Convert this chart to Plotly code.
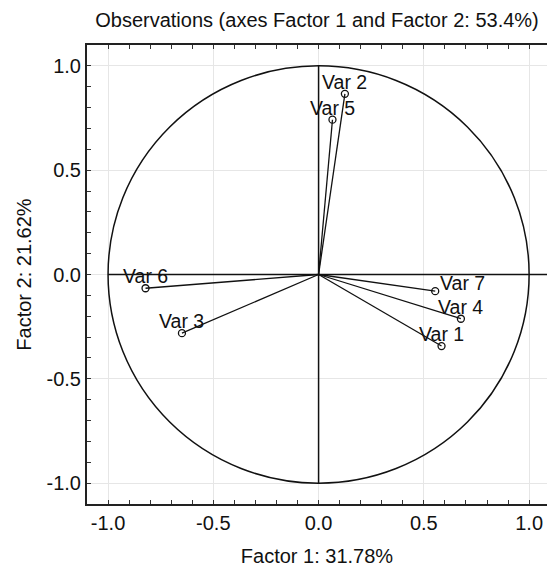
import plotly.graph_objects as go

# Data: factor loadings (Factor 1, Factor 2)
var_names = ["Var 1", "Var 2", "Var 3", "Var 4", "Var 5", "Var 6", "Var 7"]
factor1 = [0.584, 0.125, -0.649, 0.676, 0.066, -0.822, 0.554]
factor2 = [-0.343, 0.866, -0.281, -0.212, 0.742, -0.066, -0.080]

x_ticks = [-1.0, -0.5, 0.0, 0.5, 1.0]
x_tick_labels = ["-1.0", "-0.5", "0.0", "0.5", "1.0"]
y_ticks = [-1.0, -0.5, 0.0, 0.5, 1.0]
y_tick_labels = ["-1.0", "-0.5", "0.0", "0.5", "1.0"]

title_text = "Observations (axes Factor 1 and Factor 2: 53.4%)"
x_title = "Factor 1: 31.78%"
y_title = "Factor 2: 21.62%"

FONT = "Liberation Sans, Arial, sans-serif"
INK = "#111111"

fig = go.Figure()

# vectors from origin
for name, fx, fy in zip(var_names, factor1, factor2):
    fig.add_trace(go.Scatter(
        x=[0, fx], y=[0, fy], mode="lines",
        line=dict(color=INK, width=1.3), hoverinfo="skip", showlegend=False))

# points
fig.add_trace(go.Scatter(
    x=factor1, y=factor2, mode="markers", text=var_names,
    marker=dict(symbol="circle-open", size=7, color=INK, line=dict(width=1.3)),
    showlegend=False))

# labels (label placement style kept separate from data)
label_style = {"Var 7": dict(xanchor="left", yanchor="bottom", xshift=3, yshift=-5)}
for name, fx, fy in zip(var_names, factor1, factor2):
    st = label_style.get(name, dict(xanchor="center", yanchor="bottom", xshift=0, yshift=-1))
    fig.add_annotation(x=fx, y=fy, text=name, showarrow=False,
                       font=dict(family=FONT, size=19.5, color=INK), **st)

# unit circle and zero lines
fig.add_shape(type="circle", x0=-1, x1=1, y0=-1, y1=1, xref="x", yref="y",
              line=dict(color=INK, width=1.5), layer="above")
fig.add_shape(type="line", x0=-1, x1=1.1, y0=0, y1=0, xref="x", yref="y",
              line=dict(color=INK, width=1.5), layer="above")
fig.add_shape(type="line", x0=0, x1=0, y0=-1, y1=1, xref="x", yref="y",
              line=dict(color=INK, width=1.5), layer="above")

axis_common = dict(
    showline=True, linecolor="#222222", linewidth=2,
    ticks="inside", ticklen=4, tickwidth=1.2, tickcolor="#333333",
    minor=dict(ticks="inside", ticklen=4, tickwidth=1.2, tickcolor="#333333", dtick=0.1, showgrid=False),
    showgrid=True, gridcolor="#e6e6e6", gridwidth=1,
    zeroline=False,
    tickfont=dict(family=FONT, size=20, color=INK),
)

fig.update_layout(
    width=547, height=570,
    margin=dict(l=87, r=0, t=45, b=66),
    paper_bgcolor="white", plot_bgcolor="white",
    title=dict(text=title_text, x=0.5, xref="paper", xanchor="center",
               y=0.965, yref="container", yanchor="middle",
               font=dict(family=FONT, size=20, color=INK)),
    xaxis=dict(range=[-1.1, 1.085], tickvals=x_ticks, ticktext=x_tick_labels, mirror="ticks",
               title=dict(text=x_title, font=dict(family=FONT, size=20, color=INK), standoff=16),
               **axis_common),
    yaxis=dict(range=[-1.1, 1.1], tickvals=y_ticks, ticktext=y_tick_labels,
               title=dict(text=y_title, font=dict(family=FONT, size=20, color=INK), standoff=10),
               **axis_common),
)

fig.write_html("out.html")
